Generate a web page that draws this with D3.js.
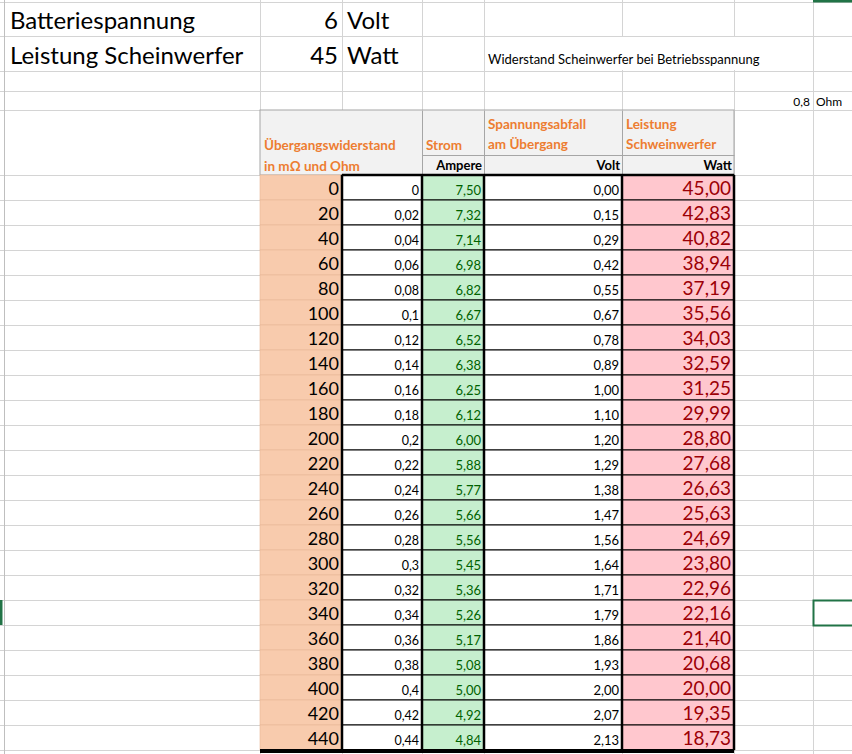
<!DOCTYPE html>
<html><head><meta charset="utf-8">
<script src="https://cdn.jsdelivr.net/npm/d3@7"></script>
<style>body{margin:0;background:#fff}svg{display:block}text{font-family:Lato,"Open Sans",sans-serif}</style>
</head><body><svg id="c" width="852" height="754"></svg>
<script>
const milliOhm=[0,20,40,60,80,100,120,140,160,180,200,220,240,260,280,300,320,340,360,380,400,420,440];
const ohm=["0","0,02","0,04","0,06","0,08","0,1","0,12","0,14","0,16","0,18","0,2","0,22","0,24","0,26","0,28","0,3","0,32","0,34","0,36","0,38","0,4","0,42","0,44"];
const strom=["7,50","7,32","7,14","6,98","6,82","6,67","6,52","6,38","6,25","6,12","6,00","5,88","5,77","5,66","5,56","5,45","5,36","5,26","5,17","5,08","5,00","4,92","4,84"];
const volt=["0,00","0,15","0,29","0,42","0,55","0,67","0,78","0,89","1,00","1,10","1,20","1,29","1,38","1,47","1,56","1,64","1,71","1,79","1,86","1,93","2,00","2,07","2,13"];
const watt=["45,00","42,83","40,82","38,94","37,19","35,56","34,03","32,59","31,25","29,99","28,80","27,68","26,63","25,63","24,69","23,80","22,96","22,16","21,40","20,68","20,00","19,35","18,73"];

const svg=d3.select("#c");
const colX=[5,260,342,422,484,622,734,813,852];
const y=d3.scaleBand().domain(d3.range(milliOhm.length)).range([175,750]);
const grid="#d4d4d4";
svg.append("rect").attr("x",0).attr("y",0).attr("width",852).attr("height",754).attr("fill","#fff");
const hLines=[2,36,71,91,110];
d3.range(175,760,25).forEach(v=>hLines.push(v));
svg.append("g").selectAll("line").data(hLines).join("line").attr("x1",0).attr("x2",852).attr("y1",d=>d+.5).attr("y2",d=>d+.5).attr("stroke",grid);
svg.append("g").selectAll("line").data(colX.slice(1,8)).join("line").attr("x1",d=>d+.5).attr("x2",d=>d+.5).attr("y1",0).attr("y2",754).attr("stroke",grid);
svg.append("line").attr("x1",4.5).attr("x2",4.5).attr("y1",0).attr("y2",754).attr("stroke","#bfbfbf");
function t(x,yy,s,o){const e=svg.append("text").attr("x",x).attr("y",yy).text(s).attr("font-size",o.fs||12).attr("fill",o.c||"#000").attr("text-anchor",o.a||"start");if(o.w)e.attr("font-weight",o.w);return e;}
svg.append("rect").attr("x",5).attr("y",3).attr("width",254).attr("height",67).attr("fill","#fff");
svg.append("rect").attr("x",485).attr("y",37).attr("width",327).attr("height",33).attr("fill","#fff");
svg.append("line").attr("x1",5).attr("x2",260).attr("y1",36.5).attr("y2",36.5).attr("stroke",grid);
t(10,29,"Batteriespannung",{fs:24});
t(10,64,"Leistung Scheinwerfer",{fs:24});
t(338,29,"6",{fs:24,a:"end"});t(347,29,"Volt",{fs:24});
t(338,64,"45",{fs:24,a:"end"});t(347,64,"Watt",{fs:24});
t(488,64,"Widerstand Scheinwerfer bei Betriebsspannung",{fs:13});
t(810,106,"0,8",{fs:12,a:"end"});t(816,106,"Ohm",{fs:12});
svg.append("rect").attr("x",260).attr("y",110).attr("width",474).attr("height",65).attr("fill","#f2f2f2").attr("stroke","#a6a6a6");
[[422,110,422,175],[484,110,484,175],[622,110,622,175],[422,155,734,155]].forEach(l=>
 svg.append("line").attr("x1",l[0]+.5).attr("x2",l[2]+.5).attr("y1",l[1]+.5).attr("y2",l[3]+.5).attr("stroke","#a6a6a6"));
const o="#ed7d31";
t(264,150,"Übergangswiderstand",{fs:13.5,c:o,w:"bold"});
t(264,171,"in mΩ und Ohm",{fs:13.5,c:o,w:"bold"});
t(426,150,"Strom",{fs:13.5,c:o,w:"bold"});
t(488,129,"Spannungsabfall",{fs:13.5,c:o,w:"bold"});
t(488,149,"am Übergang",{fs:13.5,c:o,w:"bold"});
t(626,129,"Leistung",{fs:13.5,c:o,w:"bold"});
t(626,149,"Schweinwerfer",{fs:13.5,c:o,w:"bold"});
t(482,170,"Ampere",{fs:13,w:"bold",a:"end"});
t(620,170,"Volt",{fs:13,w:"bold",a:"end"});
t(732,170,"Watt",{fs:13,w:"bold",a:"end"});
const cols=[
 {x0:260,x1:342,vals:milliOhm,fill:"#f8cbad",c:"#000",fs:18},
 {x0:342,x1:422,vals:ohm,fill:"#fff",c:"#000",fs:12.5},
 {x0:422,x1:484,vals:strom,fill:"#c6efce",c:"#006100",fs:13},
 {x0:484,x1:622,vals:volt,fill:"#fff",c:"#000",fs:13},
 {x0:622,x1:734,vals:watt,fill:"#ffc7ce",c:"#9c0006",fs:19}];
cols.forEach((c,ci)=>{
 const gg=svg.append("g");
 gg.selectAll("rect").data(c.vals).join("rect").attr("x",c.x0).attr("y",(d,i)=>y(i)).attr("width",c.x1-c.x0).attr("height",y.bandwidth()).attr("fill",c.fill)
  .attr("stroke",ci===0?"#e6b796":"#000").attr("stroke-width",ci===0?0.6:1);
 gg.selectAll("text").data(c.vals).join("text").attr("x",c.x1-3).attr("y",(d,i)=>y(i)+y.bandwidth()-5).attr("text-anchor","end")
  .attr("font-size",c.fs).attr("fill",c.c).text(d=>d);
});
[[342,175,342,750],[422,175,422,750],[484,175,484,750],[622,175,622,750],[734,175,734,750],[342,175,734,175]].forEach(l=>
 svg.append("line").attr("x1",l[0]).attr("x2",l[2]).attr("y1",l[1]).attr("y2",l[3]).attr("stroke","#000").attr("stroke-width",2.5));
svg.append("line").attr("x1",260).attr("x2",734).attr("y1",751).attr("y2",751).attr("stroke","#000").attr("stroke-width",4);
svg.append("rect").attr("x",813.5).attr("y",600.5).attr("width",40).attr("height",25).attr("fill","none").attr("stroke","#217346").attr("stroke-width",2);
svg.append("line").attr("x1",1).attr("x2",1).attr("y1",600).attr("y2",625).attr("stroke","#217346").attr("stroke-width",3);
svg.append("line").attr("x1",813).attr("x2",852).attr("y1",1).attr("y2",1).attr("stroke","#217346").attr("stroke-width",3);
</script></body></html>
